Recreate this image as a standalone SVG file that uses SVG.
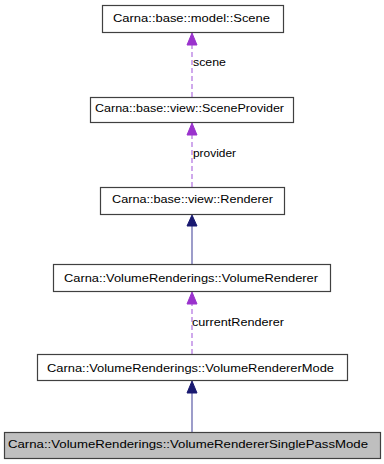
<svg xmlns="http://www.w3.org/2000/svg" width="384" height="464" viewBox="0 0 384 464">
  <style>
    .box { fill: #ffffff; stroke: #404040; stroke-width: 1.2; }
    .cur { fill: #bfbfbf; stroke: #404040; stroke-width: 1.2; }
    .lbl { font-family: "Liberation Sans", Arial, sans-serif; font-size: 11px; fill: #000000; }
    .elbl { font-family: "Liberation Sans", Arial, sans-serif; font-size: 11px; fill: #000000; }
    .use { stroke: #b070e0; stroke-width: 1.2; stroke-dasharray: 5 3; fill: none; }
    .inh { stroke: #5b5ba6; stroke-width: 1.2; fill: none; }
    .headU { fill: #9a32cd; stroke: #9a32cd; }
    .headI { fill: #191970; stroke: #191970; }
  </style>
  <rect width="384" height="464" fill="#ffffff"/>

  <g id="edges">
    <!-- usage relations (dashed) -->
    <line class="use" x1="192" y1="97" x2="192" y2="44"/>
    <polygon class="headU" points="192,33 187,45 197,45"/>
    <text class="elbl" x="193" y="66" textLength="33" lengthAdjust="spacingAndGlyphs">scene</text>

    <line class="use" x1="192" y1="187" x2="192" y2="134"/>
    <polygon class="headU" points="192,123 187,135 197,135"/>
    <text class="elbl" x="193" y="157" textLength="43" lengthAdjust="spacingAndGlyphs">provider</text>

    <line class="use" x1="192" y1="354" x2="192" y2="303"/>
    <polygon class="headU" points="192,292 187,304 197,304"/>
    <text class="elbl" x="192" y="326" textLength="92" lengthAdjust="spacingAndGlyphs">currentRenderer</text>

    <!-- inheritance (solid) -->
    <line class="inh" x1="192" y1="264" x2="192" y2="225"/>
    <polygon class="headI" points="192,215 187,226 197,226"/>

    <line class="inh" x1="192" y1="432" x2="192" y2="392"/>
    <polygon class="headI" points="192,381 187,393 197,393"/>
  </g>

  <g id="node-scene">
    <rect class="box" x="102.5" y="5.5" width="181" height="27"/>
    <text class="lbl" x="113" y="22" textLength="157" lengthAdjust="spacingAndGlyphs">Carna::base::model::Scene</text>
  </g>

  <g id="node-sceneprovider">
    <rect class="box" x="90.5" y="97.5" width="203" height="25"/>
    <text class="lbl" x="95" y="112" textLength="189" lengthAdjust="spacingAndGlyphs">Carna::base::view::SceneProvider</text>
  </g>

  <g id="node-renderer">
    <rect class="box" x="100.5" y="187.5" width="184" height="27"/>
    <text class="lbl" x="112" y="203" textLength="161" lengthAdjust="spacingAndGlyphs">Carna::base::view::Renderer</text>
  </g>

  <g id="node-volumerenderer">
    <rect class="box" x="53.5" y="264.5" width="277" height="27"/>
    <text class="lbl" x="64" y="282" textLength="254" lengthAdjust="spacingAndGlyphs">Carna::VolumeRenderings::VolumeRenderer</text>
  </g>

  <g id="node-volumerenderermode">
    <rect class="box" x="37.5" y="354.5" width="310" height="26"/>
    <text class="lbl" x="47" y="372" textLength="287" lengthAdjust="spacingAndGlyphs">Carna::VolumeRenderings::VolumeRendererMode</text>
  </g>

  <g id="node-singlepassmode">
    <rect class="cur" x="4.5" y="432.5" width="376" height="26"/>
    <text class="lbl" x="8" y="448" textLength="360" lengthAdjust="spacingAndGlyphs">Carna::VolumeRenderings::VolumeRendererSinglePassMode</text>
  </g>
</svg>
